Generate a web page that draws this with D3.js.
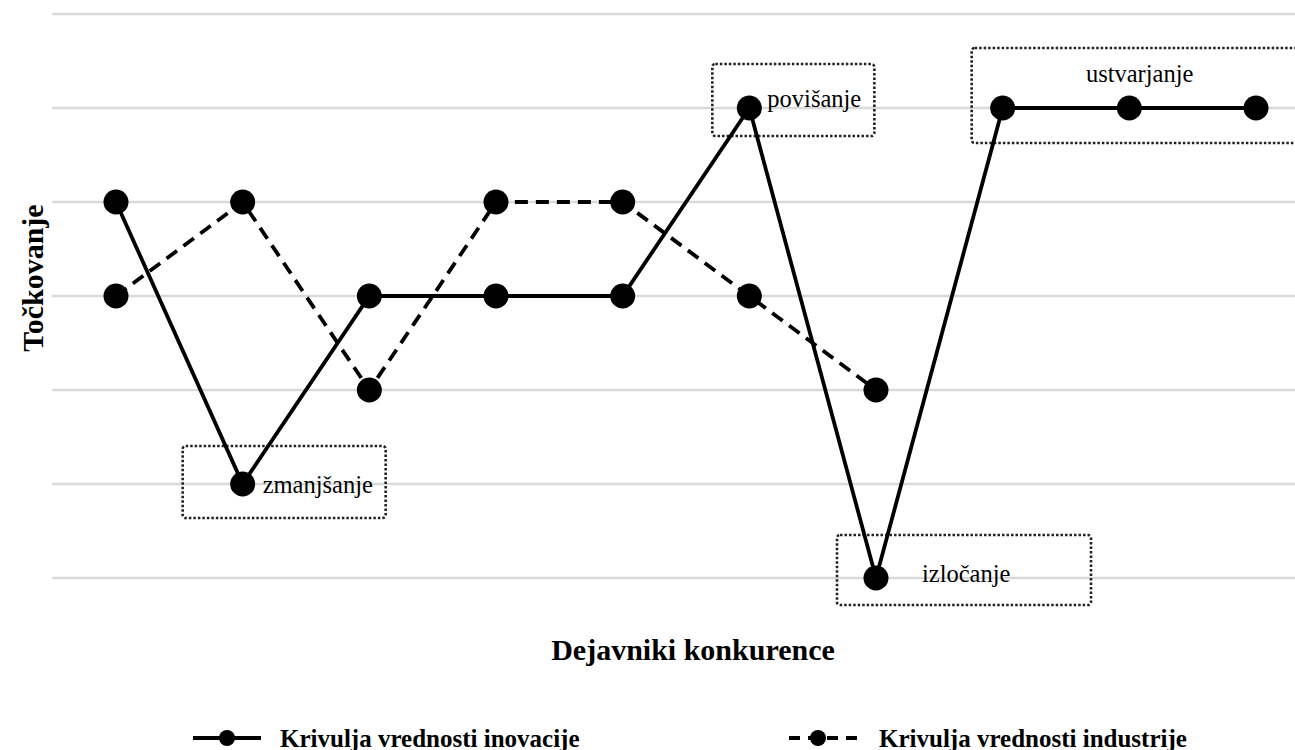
<!DOCTYPE html>
<html><head><meta charset="utf-8">
<script src="https://cdn.jsdelivr.net/npm/d3@7"></script>
<style>body{margin:0;background:#fff}svg{display:block}text{font-family:"Liberation Serif","Times New Roman",serif}</style>
</head><body><svg id="c" width="1295" height="750"></svg>
<script>
const categories = [1,2,3,4,5,6,7,8,9,10];
const innovation = [5,2,4,4,4,6,1,6,6,6];
const industry = [4,5,3,5,5,4,3];
const gridValues = [1,2,3,4,5,6,7];
const seriesNames = ["Krivulja vrednosti inovacije","Krivulja vrednosti industrije"];
const annotationLabels = ["zmanjšanje","povišanje","izločanje","ustvarjanje"];

const svg = d3.select("#c");
const x = d3.scalePoint().domain(categories).range([116,1256]);
const y = d3.scaleLinear().domain([1,7]).range([578,14]);

// gridlines
svg.append("g").selectAll("line").data(gridValues).join("line")
  .attr("x1",52).attr("x2",1295).attr("y1",d=>y(d)).attr("y2",d=>y(d))
  .attr("stroke","#d9d9d9").attr("stroke-width",2.5);

// annotation boxes
const boxStyle = sel => sel.attr("fill","none").attr("stroke","#222").attr("stroke-width",2.6)
  .attr("stroke-dasharray","2.5,2").attr("rx",3);
const ann = [
  {label:annotationLabels[0], cat:2, val:2, bx:-60, bw:203, by:-38, bh:72, tx:20, ty:9, anchor:"start"},
  {label:annotationLabels[1], cat:6, val:6, bx:-37, bw:162, by:-44, bh:72, tx:18, ty:-1, anchor:"start"},
  {label:annotationLabels[2], cat:7, val:1, bx:-39, bw:254, by:-43, bh:70, tx:46, ty:4, anchor:"start"},
  {label:annotationLabels[3], cat:8, val:6, bx:-31, bw:330, by:-60, bh:95, tx:137, ty:-26, anchor:"middle"}
];
const ag = svg.append("g");
ann.forEach(a=>{
  const cx = x(a.cat), cy = y(a.val);
  ag.append("rect").attr("x",cx+a.bx).attr("y",cy+a.by).attr("width",a.bw).attr("height",a.bh).call(boxStyle);
  ag.append("text").attr("x",cx+a.tx).attr("y",cy+a.ty).attr("text-anchor",a.anchor)
    .attr("font-size",24.5).attr("fill","#000").text(a.label);
});

// lines
const lineGen = d3.line().x((d,i)=>x(categories[i])).y(d=>y(d));
svg.append("path").attr("d",lineGen(industry)).attr("fill","none").attr("stroke","#000")
  .attr("stroke-width",3.8).attr("stroke-dasharray","13,8");
svg.append("path").attr("d",lineGen(innovation)).attr("fill","none").attr("stroke","#000")
  .attr("stroke-width",3.8);
svg.append("g").selectAll("circle").data(industry).join("circle")
  .attr("cx",(d,i)=>x(categories[i])).attr("cy",d=>y(d)).attr("r",12.5).attr("fill","#000");
svg.append("g").selectAll("circle").data(innovation).join("circle")
  .attr("cx",(d,i)=>x(categories[i])).attr("cy",d=>y(d)).attr("r",12.5).attr("fill","#000");

// axis titles
svg.append("text").attr("transform","translate(43,278) rotate(-90)").attr("text-anchor","middle")
  .attr("font-size",30).attr("font-weight","bold").text("Točkovanje");
svg.append("text").attr("x",693).attr("y",660).attr("text-anchor","middle")
  .attr("font-size",30).attr("font-weight","bold").text("Dejavniki konkurence");

// legend
const lg = svg.append("g");
lg.append("line").attr("x1",193).attr("x2",261).attr("y1",738).attr("y2",738).attr("stroke","#000").attr("stroke-width",4);
lg.append("circle").attr("cx",227).attr("cy",738).attr("r",8).attr("fill","#000");
lg.append("text").attr("x",280).attr("y",747).attr("font-size",25).attr("font-weight","bold").text(seriesNames[0]);
lg.append("line").attr("x1",789).attr("x2",858).attr("y1",738).attr("y2",738).attr("stroke","#000").attr("stroke-width",4).attr("stroke-dasharray","11,8");
lg.append("circle").attr("cx",818).attr("cy",738).attr("r",8).attr("fill","#000");
lg.append("text").attr("x",879).attr("y",747).attr("font-size",25).attr("font-weight","bold").text(seriesNames[1]);
</script></body></html>
